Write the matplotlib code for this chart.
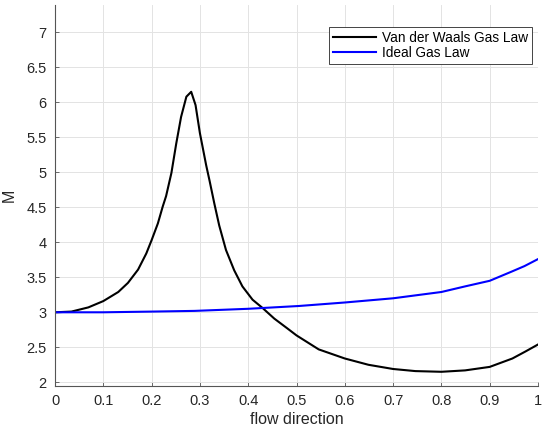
import numpy as np
from matplotlib import pyplot as plt

# Van der Waals curve
vdw_x = [0.0, 0.034, 0.069, 0.1, 0.131, 0.151, 0.172, 0.189, 0.2, 0.213,
         0.223, 0.230, 0.241, 0.251, 0.261, 0.272, 0.282, 0.291, 0.300, 0.313,
         0.320, 0.330, 0.340, 0.354, 0.371, 0.388, 0.409, 0.430, 0.454, 0.481,
         0.5, 0.546, 0.6, 0.649, 0.7, 0.746, 0.8, 0.849, 0.9, 0.947, 0.974, 1.0]
vdw_y = [3.00, 3.01, 3.07, 3.16, 3.29, 3.42, 3.61, 3.84, 4.03, 4.27,
         4.51, 4.66, 4.99, 5.41, 5.79, 6.08, 6.15, 5.96, 5.56, 5.10,
         4.88, 4.55, 4.24, 3.89, 3.60, 3.37, 3.18, 3.06, 2.91, 2.77,
         2.67, 2.47, 2.34, 2.25, 2.19, 2.16, 2.15, 2.17, 2.22, 2.34, 2.44, 2.54]

# Ideal gas curve
ideal_x = [0.0, 0.1, 0.2, 0.289, 0.4, 0.505, 0.6, 0.7, 0.8, 0.849, 0.9,
           0.945, 0.972, 1.0]
ideal_y = [3.00, 3.00, 3.01, 3.02, 3.05, 3.09, 3.14, 3.20, 3.29, 3.37, 3.45,
           3.58, 3.66, 3.76]

x_ticks = np.round(np.arange(0, 1.01, 0.1), 1)
y_ticks = np.arange(2, 7.01, 0.5)

plt.rcParams['font.family'] = ['Liberation Sans', 'DejaVu Sans']

fig = plt.figure(figsize=(5.42, 4.37), dpi=100)
ax = fig.add_axes([55 / 542, 1 - 386 / 437, 483 / 542, 381 / 437])

ax.plot(vdw_x, vdw_y, color='black', lw=1.5, label='Van der Waals Gas Law')
ax.plot(ideal_x, ideal_y, color='#0000ff', lw=1.5, label='Ideal Gas Law')

ax.set_xlim(0, 1)
ax.set_ylim(1.947, 7.39)
ax.set_xticks(x_ticks)
ax.set_xticklabels([f'{v:g}' for v in x_ticks])
ax.set_yticks(y_ticks)
ax.set_yticklabels([f'{v:g}' for v in y_ticks])

ax.grid(True, color='#e3e3e3', lw=0.7)
ax.set_axisbelow(True)
for side in ['top', 'right']:
    ax.spines[side].set_visible(False)
for side in ['left', 'bottom']:
    ax.spines[side].set_color('#555555')
    ax.spines[side].set_linewidth(0.8)
ax.tick_params(direction='in', length=3, width=0.6, color='#555555',
               labelsize=10.5, labelcolor='#262626', pad=6)

ax.set_xlabel('flow direction', fontsize=11.5, color='#262626', labelpad=3)
ax.set_ylabel('M', fontsize=11.5, color='#262626', labelpad=7)

leg = ax.legend(loc='upper right', bbox_to_anchor=(532 / 542, 1 - 26.5 / 437),
                bbox_transform=fig.transFigure, borderaxespad=0, fancybox=False,
                framealpha=1, fontsize=9.8, handlelength=3.2, handletextpad=0.4,
                labelspacing=0.1, borderpad=0.3)
leg.get_frame().set_edgecolor('#262626')
leg.get_frame().set_linewidth(0.6)

plt.savefig('out.png')
